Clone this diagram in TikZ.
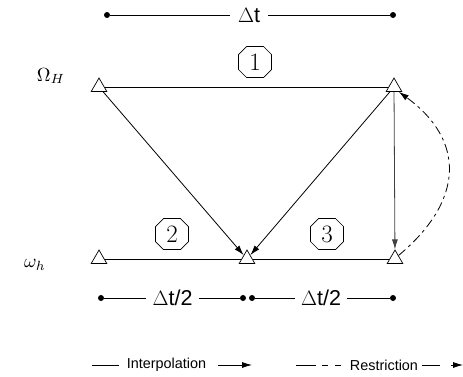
\documentclass[tikz,border=0pt]{standalone}
\usepackage{fontspec}
\newfontfamily\lab{Liberation Sans}
\usetikzlibrary{shapes.geometric,shapes.misc,arrows.meta}
\begin{document}
\begin{tikzpicture}[x=1pt,y=-1pt,
  tri/.style={draw,regular polygon,regular polygon sides=3,minimum size=18pt,inner sep=0pt,fill=white,line width=0.7pt},
  oct/.style={draw,chamfered rectangle,chamfered rectangle corners=all,chamfered rectangle angle=45,chamfered rectangle sep=4pt,minimum width=33pt,minimum height=31pt,inner sep=0pt,font=\fontsize{25}{25}\selectfont,line width=0.7pt},
  dot/.style={circle,fill,inner sep=0pt,minimum size=6pt},
  lbl/.style={font=\lab\fontsize{21.5}{21.5}\selectfont,inner sep=1pt},
  leg/.style={font=\lab\fontsize{14.4}{14.4}\selectfont,inner sep=1pt},
  mlab/.style={scale=1.9,inner sep=0pt},
  arr/.style={-{Latex[length=10pt,width=6pt]}},
  ln/.style={line width=0.8pt}]
\useasboundingbox (0,0) rectangle (463,376);
% top delta t
\node[dot] (d1) at (107,15) {};
\node[dot] (d2) at (393,15) {};
\node[lbl] (dt) at (249,15) {$\Delta$t};
\draw[ln] (d1) -- ([xshift=-7pt]dt.west);
\draw[ln] ([xshift=7pt]dt.east) -- (d2);
% labels
\node[mlab] (OH) at (51,76) {$\Omega_H$};
\node[mlab] (oh) at (35,265) {$\omega_h$};
% triangles
\node[tri] (tl) at (99,87) {};
\node[tri] (tr) at (394,87) {};
\node[tri] (bl) at (99,259) {};
\node[tri] (bm) at (247,259) {};
\node[tri] (br) at (395,259) {};
\draw[ln] (tl) -- (tr);
\draw[ln] (bl) -- (bm) -- (br);
\node[oct] (o1) at (255,62) {1};
\node[oct] (o2) at (172,234) {2};
\node[oct] (o3) at (327,234) {3};
\draw[ln,arr] (tl) -- (bm);
\draw[ln,arr] (tr) -- (bm);
\draw[ln,arr,black!75] (tr) -- (br);
\draw[ln,arr,dash pattern=on 9pt off 4pt on 3pt off 4pt] (br.north east) .. controls (465,200) and (465,140) .. (tr.south east);
% bottom delta t/2
\node[dot] (e1) at (101,298) {};
\node[dot] (e2) at (243,298) {};
\node[dot] (e3) at (252,298) {};
\node[dot] (e4) at (393,298) {};
\node[lbl] (h1) at (172.5,298) {$\Delta$t/2};
\node[lbl] (h2) at (321,298) {$\Delta$t/2};
\draw[ln] (e1) -- ([xshift=-5pt]h1.west);
\draw[ln] ([xshift=5pt]h1.east) -- (e2);
\draw[ln] (e3) -- ([xshift=-5pt]h2.west);
\draw[ln] ([xshift=5pt]h2.east) -- (e4);
% legend
\coordinate (a1) at (92,365); \coordinate (a2) at (119,365);
\node[leg] (li) at (166.5,365) {Interpolation};
\coordinate (a3) at (218,365); \coordinate (a4) at (252,365);
\draw[ln] (a1) -- (a2);
\draw[ln,arr] (a3) -- (a4);
\coordinate (b1) at (296,365); \coordinate (b2) at (316,365);
\coordinate (b3) at (322,365); \coordinate (b4) at (328,365);
\coordinate (b5) at (335,365); \coordinate (b6) at (341,365);
\node[leg] (lr) at (384,365) {Restriction};
\coordinate (b7) at (422,365); \coordinate (b8) at (440,365);
\coordinate (b9) at (451,365); \coordinate (b10) at (463,365);
\draw[ln] (b1) -- (b2);
\draw[ln] (b3) -- (b4);
\draw[ln] (b5) -- (b6);
\draw[ln] (b7) -- (b8);
\draw[ln,arr] (b9) -- (b10);
\end{tikzpicture}
\end{document}
